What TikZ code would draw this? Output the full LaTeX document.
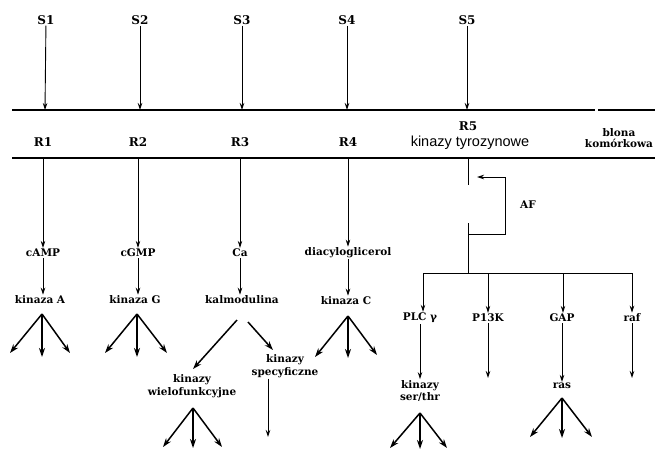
\documentclass[tikz,border=0pt]{standalone}
\usepackage{fontspec}
\setmainfont{DejaVu Serif}
\newfontfamily\sansf{Liberation Sans}
\usetikzlibrary{arrows.meta}
\begin{document}
\begin{tikzpicture}[x=1pt,y=-1pt,
 lbl/.style={font=\bfseries\fontsize{10.5}{12.5}\selectfont, inner sep=1pt, align=center},
 big/.style={font=\bfseries\fontsize{12}{13}\selectfont, inner sep=1pt},
 arr/.style={-{Stealth[length=7pt,width=4.5pt]}, line width=0.9pt},
 fan/.style={-{Stealth[length=9pt,width=6pt]}, line width=1.5pt},
 mem/.style={line width=1.3pt}]
\useasboundingbox[fill=white] (0,0) rectangle (655,451);

% signals
\node[big] (s1) at (46,20) {S1};
\node[big] (s2) at (140,20) {S2};
\node[big] (s3) at (242,20) {S3};
\node[big] (s4) at (347,20) {S4};
\node[big] (s5) at (467,20) {S5};

% membrane
\coordinate (mtl) at (12,110);
\coordinate (mtm) at (595,110);
\coordinate (mtn) at (598,110);
\coordinate (mtr) at (655,110);
\coordinate (mbl) at (12,158);
\coordinate (mbr) at (655,158);
\draw[mem] (mtl) -- (mtm);
\draw[mem] (mtn) -- (mtr);
\draw[mem] (mbl) -- (mbr);

\coordinate (t1) at (45,110);
\coordinate (t2) at (140,110);
\coordinate (t3) at (242,110);
\coordinate (t4) at (347,110);
\coordinate (t5) at (467,110);
\draw[arr] (s1) -- (t1);
\draw[arr] (s2) -- (t2);
\draw[arr] (s3) -- (t3);
\draw[arr] (s4) -- (t4);
\draw[arr] (s5) -- (t5);

% receptors
\node[big] (r1) at (43,142) {R1};
\node[big] (r2) at (138,142) {R2};
\node[big] (r3) at (240,142) {R3};
\node[big] (r4) at (348,142) {R4};
\node[big] (r5) at (468,126) {R5};
\node[font=\sansf\fontsize{14.5}{15}\selectfont, inner sep=1pt] (kt) at (470,143) {kinazy tyrozynowe};
\node[lbl, font=\bfseries\fontsize{10.5}{11.5}\selectfont] (bk) at (619,138) {blona\\komórkowa};

% second messengers
\coordinate (b1) at (43,158);
\coordinate (b2) at (138,158);
\coordinate (b3) at (240,158);
\coordinate (b4) at (348,158);
\node[lbl] (camp) at (43,253) {cAMP};
\node[lbl] (cgmp) at (138,253) {cGMP};
\node[lbl] (ca) at (240,253) {Ca};
\node[lbl] (dag) at (348,253) {diacyloglicerol};
\draw[arr] (b1) -- (camp);
\draw[arr] (b2) -- (cgmp);
\draw[arr] (b3) -- (ca);
\draw[arr] (b4) -- (dag);

\node[lbl] (ka) at (40,300) {kinaza A};
\node[lbl] (kg) at (135,300) {kinaza G};
\node[lbl] (kal) at (242,300) {kalmodulina};
\node[lbl] (kc) at (346,301) {kinaza C};
\draw[arr] (camp) -- (camp |- ka.north);
\draw[arr] (cgmp) -- (cgmp |- kg.north);
\draw[arr] (ca) -- (ca |- kal.north);
\draw[arr] (dag) -- (dag |- kc.north);

% fans under kinases
\coordinate (kaa) at (42,314);
\coordinate (ka1) at (10,353);
\coordinate (ka2) at (42,357);
\coordinate (ka3) at (70,353);
\draw[fan] (kaa) -- (ka1);
\draw[fan] (kaa) -- (ka2);
\draw[fan] (kaa) -- (ka3);

\coordinate (kga) at (137,314);
\coordinate (kg1) at (105,353);
\coordinate (kg2) at (137,357);
\coordinate (kg3) at (167,353);
\draw[fan] (kga) -- (kg1);
\draw[fan] (kga) -- (kg2);
\draw[fan] (kga) -- (kg3);

\coordinate (kca) at (348,316);
\coordinate (kc1) at (315,357);
\coordinate (kc2) at (348,358);
\coordinate (kc3) at (377,355);
\draw[fan] (kca) -- (kc1);
\draw[fan] (kca) -- (kc2);
\draw[fan] (kca) -- (kc3);

% kalmodulina branches
\node[lbl] (kw) at (192,386) {kinazy\\wielofunkcyjne};
\node[lbl] (ks) at (285,366) {kinazy\\specyficzne};
\coordinate (kl1) at (237,320);
\coordinate (kl2) at (248,322);
\coordinate (kw0) at (193,369);
\coordinate (ks0) at (273,350);
\draw[fan] (kl1) -- (kw0);
\draw[fan] (kl2) -- (ks0);
\coordinate (ksb) at (268,437);
\draw[arr] (ks.south -| ksb) -- (ksb);

\coordinate (kwa) at (193,408);
\coordinate (kw1) at (163,447);
\coordinate (kw2) at (193,448);
\coordinate (kw3) at (222,447);
\draw[fan] (kwa) -- (kw1);
\draw[fan] (kwa) -- (kw2);
\draw[fan] (kwa) -- (kw3);

% tyrosine kinase pathway
\coordinate (c5a) at (468,158);
\coordinate (c5b) at (468,185);
\coordinate (c5c) at (468,223);
\coordinate (c5d) at (468,273);
\draw[line width=0.9pt] (c5a) -- (c5b);
\draw[line width=0.9pt] (c5c) -- (c5d);
\coordinate (afs) at (468,234);
\coordinate (afc) at (505,234);
\coordinate (afu) at (505,177);
\coordinate (afe) at (477,177);
\draw[arr] (afs) -- (afc) -- (afu) -- (afe);
\node[lbl] (af) at (528,205) {AF};

\coordinate (hl) at (423,273);
\coordinate (hr) at (632,273);
\draw[line width=0.9pt] (hl) -- (hr);
\coordinate (h2) at (488,273);
\coordinate (h3) at (563,273);

\node[lbl] (plc) at (420,318) {PLC γ};
\node[lbl] (pi3k) at (488,318) {P13K};
\node[lbl] (gap) at (562,318) {GAP};
\node[lbl] (raf) at (632,318) {raf};
\draw[arr] (hl) -- (hl |- plc.north);
\draw[arr] (h2) -- (pi3k);
\draw[arr] (h3) -- (h3 |- gap.north);
\draw[arr] (hr) -- (raf);

\node[lbl] (kst) at (420,391) {kinazy\\ser/thr};
\node[lbl] (ras) at (562,386) {ras};
\coordinate (pie) at (488,378);
\coordinate (rae) at (632,378);
\draw[arr] (plc) -- (plc |- kst.north);
\draw[arr] (pi3k) -- (pie);
\draw[arr] (gap) -- (ras);
\draw[arr] (raf) -- (rae);

\coordinate (ksa) at (420,413);
\coordinate (ks1) at (390,448);
\coordinate (ks2) at (420,449);
\coordinate (ks3) at (447,448);
\draw[fan] (ksa) -- (ks1);
\draw[fan] (ksa) -- (ks2);
\draw[fan] (ksa) -- (ks3);

\coordinate (raa) at (562,398);
\coordinate (ra1) at (530,437);
\coordinate (ra2) at (562,438);
\coordinate (ra3) at (592,437);
\draw[fan] (raa) -- (ra1);
\draw[fan] (raa) -- (ra2);
\draw[fan] (raa) -- (ra3);
\end{tikzpicture}
\end{document}
